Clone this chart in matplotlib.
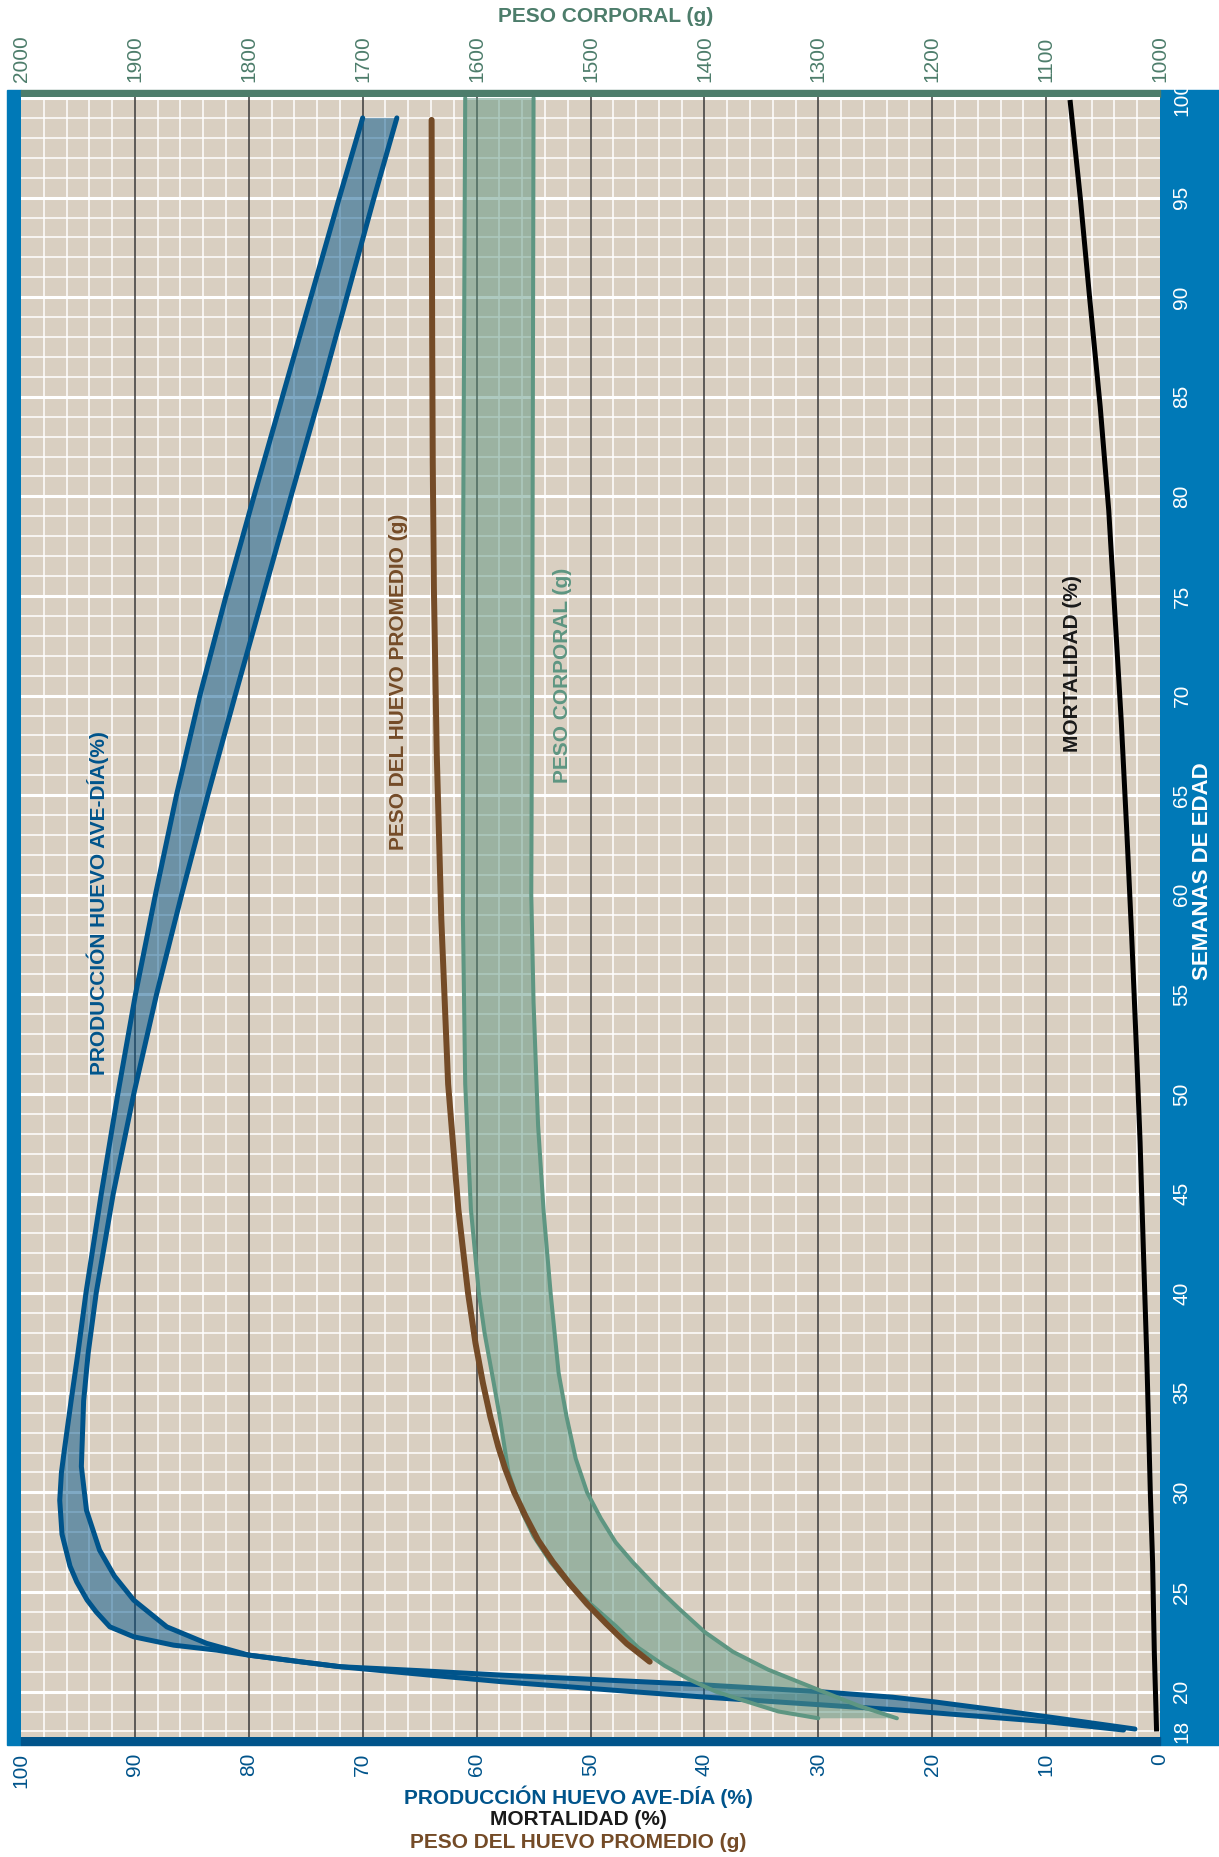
import matplotlib
matplotlib.use('Agg')
import matplotlib.pyplot as plt
from matplotlib.patches import Rectangle

plt.rcParams['font.family'] = ['Liberation Sans Narrow', 'Liberation Sans', 'DejaVu Sans']

# Producción huevo ave-día (%) - estándar alto y bajo
prod_alta_sem = [18.07, 18.49, 19.07, 19.74, 20.5, 20.9, 21.25, 21.5, 21.83, 22.08, 22.33, 22.75, 23.25,
                 24.0, 24.6, 25.5, 26.3, 27.9, 29.6, 31.0, 32.1, 34.6, 37, 40, 45, 50, 55, 60, 65, 70,
                 75, 80, 85, 90, 95, 99]
prod_alta = [3.2, 9.95, 22.8, 40.4, 57.9, 65.5, 72.0, 75.5, 80.0, 82.8, 86.6, 90.1, 92.2,
             93.4, 94.2, 95.1, 95.7, 96.4, 96.6, 96.45, 96.2, 95.6, 95.0, 94.3, 92.95, 91.5, 89.95, 88.2,
             86.35, 84.3, 82.0, 79.55, 77.05, 74.55, 72.05, 70.0]
prod_baja_sem = [18.12, 18.74, 19.2, 19.49, 19.72, 20.0, 20.4, 20.83, 21.05, 21.25, 21.5, 21.83, 22.42,
                 23.25, 24.59, 25.8, 27.1, 29.1, 31.3, 34.6, 37, 40, 45, 50, 55, 60, 65, 70, 75, 80,
                 85, 90, 95, 99]
prod_baja = [2.2, 9.95, 16.0, 19.9, 23.5, 30.0, 42.0, 57.9, 65.0, 72.0, 75.5, 80.0, 83.7,
             87.2, 90.1, 91.8, 93.1, 94.25, 94.7, 94.5, 94.1, 93.4, 91.9, 90.1, 88.1, 85.9, 83.6, 81.2,
             78.75, 76.3, 73.8, 71.4, 69.0, 67.0]

# Peso del huevo promedio (g)
huevo_sem = [21.5, 22.4, 23.4, 24.4, 25.4, 26.5, 27.6, 28.8, 30.0, 31.2, 32.3, 33.8, 35.5, 37.5, 40,
             44.2, 50.5, 58.8, 67.1, 75.4, 81.7, 87.9, 98.9]
huevo_peso = [44.8, 46.8, 48.6, 50.3, 51.8, 53.3, 54.6, 55.7, 56.7, 57.5, 58.1, 58.8, 59.45, 60.1, 60.75,
              61.6, 62.5, 63.1, 63.5, 63.75, 63.85, 63.9, 63.95]

# Peso corporal (g) - estándar alto y bajo
pc_alto_sem = [18.66, 19.0, 19.45, 20.0, 20.6, 21.3, 22.2, 23.3, 24.4, 25.4, 26.5, 27.8, 29.0, 31.0,
               33.9, 35.5, 38, 40, 44.2, 50.5, 58.8, 75.4, 100]
pc_alto = [1300, 1335, 1360, 1390, 1413, 1435, 1458, 1478, 1500, 1519, 1535, 1550, 1560, 1572,
           1580, 1585, 1593, 1598, 1605, 1610, 1612, 1612, 1610]
pc_bajo_sem = [18.66, 19.3, 20.0, 21.1, 22.0, 23.0, 24.2, 25.3, 26.5, 27.5, 28.7, 30.0, 31.7, 33.8,
               36, 40, 44, 48.4, 54.6, 60, 75, 100]
pc_bajo = [1231, 1265, 1296, 1344, 1375, 1400, 1423, 1443, 1463, 1478, 1491, 1503, 1513, 1521,
           1528, 1535, 1541, 1546, 1550, 1552, 1551, 1550]

# Mortalidad (%)
mort_sem = [18, 22, 26.5, 30, 37, 42, 47.6, 52, 58.1, 63, 68.7, 74, 79.3, 84.5, 89.8, 95, 99.9]
mort = [0.3, 0.5, 0.65, 0.85, 1.17, 1.45, 1.75, 2.05, 2.5, 2.9, 3.4, 3.95, 4.5, 5.25, 6.15, 7.0, 7.9]

ticks_x = list(range(0, 101, 10))
ticks_pc = list(range(1000, 2001, 100))
ticks_sem = [18, 20] + list(range(25, 101, 5))

AZUL = '#00548b'
AZUL_BORDE = '#0079b7'
VERDE = '#5e9682'
VERDE_OSC = '#4d7d6b'
MARRON = '#744b27'
FONDO = '#d9cfc1'

W, H = 1219, 1857
fig = plt.figure(figsize=(W / 100, H / 100), dpi=100)


def fr(x0, y0, x1, y1):
    # caja en pixeles -> fracción de figura
    return (x0 / W, 1 - y1 / H, (x1 - x0) / W, (y1 - y0) / H)


ax = fig.add_axes(fr(21, 97, 1160, 1737))
ax.set_facecolor(FONDO)
ax.set_xlim(100, 0)
ax.set_ylim(17.72, 100.05)

# cuadrícula
for v in range(2, 100, 2):
    if v % 10:
        ax.axvline(v, color='white', lw=1.1, zorder=1)
    else:
        ax.axvline(v, color='#3a3a3a', lw=1.1, zorder=1.5)
for s in range(18, 101):
    ax.axhline(s, color='white', lw=2.2 if s % 5 == 0 else 1.1, zorder=1)

# producción
ax.fill(prod_alta + prod_baja[::-1], prod_alta_sem + prod_baja_sem[::-1],
        color=AZUL, alpha=0.5, lw=0, zorder=2)
ax.plot(prod_alta, prod_alta_sem, color=AZUL, lw=3.6, solid_capstyle='round', solid_joinstyle='round', zorder=3)
ax.plot(prod_baja, prod_baja_sem, color=AZUL, lw=3.6, solid_capstyle='round', solid_joinstyle='round', zorder=3)

# mortalidad
ax.plot(mort, mort_sem, color='black', lw=3.6, solid_capstyle='butt', zorder=3)

for s in ax.spines.values():
    s.set_visible(False)
ax.set_xticks(ticks_x)
ax.tick_params(axis='x', length=0, pad=11.5, labelsize=15, labelcolor=AZUL, labelrotation=90)
ax.yaxis.tick_right()
ax.set_yticks(ticks_sem)
ax.tick_params(axis='y', length=0, pad=9, labelsize=15, labelcolor='white', labelrotation=90)
for t in ax.get_yticklabels():
    t.set_va('center')

# peso corporal (eje superior)
ax2 = ax.twiny()
ax2.set_xlim(2000, 1000)
ax2.fill(pc_alto + pc_bajo[::-1], pc_alto_sem + pc_bajo_sem[::-1],
         color=VERDE, alpha=0.5, lw=0, zorder=2)
ax2.plot(pc_alto, pc_alto_sem, color=VERDE, lw=2.9, solid_capstyle='round', solid_joinstyle='round', zorder=3)
ax2.plot(pc_bajo, pc_bajo_sem, color=VERDE, lw=2.9, solid_capstyle='round', solid_joinstyle='round', zorder=3)
for s in ax2.spines.values():
    s.set_visible(False)
ax2.set_xticks(ticks_pc)
ax2.tick_params(axis='x', length=0, pad=10.8, labelsize=15, labelcolor=VERDE_OSC, labelrotation=90)

# peso del huevo y textos (capa superior)
ax3 = ax.twiny()
ax3.set_xlim(100, 0)
ax3.axis('off')
ax3.plot(huevo_peso, huevo_sem, color=MARRON, lw=4.3, solid_capstyle='round', solid_joinstyle='round', zorder=4)

kw = dict(rotation=90, ha='center', va='center', fontsize=15, fontweight='bold')
ax3.text(93.3, 59.6, 'PRODUCCIÓN HUEVO AVE-DÍA(%)', color=AZUL, **kw)
ax3.text(66.9, 70.7, 'PESO DEL HUEVO PROMEDIO (g)', color=MARRON, **kw)
ax3.text(52.5, 71.0, 'PESO CORPORAL (g)', color=VERDE, **kw)
ax3.text(7.7, 71.6, 'MORTALIDAD (%)', color='#1a1a1a', **kw)

# marcos
marcos = [((7, 90, 21, 1745), AZUL_BORDE), ((1160, 90, 1219, 1745), AZUL_BORDE),
          ((21, 90, 1160, 97), VERDE_OSC), ((21, 1737, 1160, 1745), AZUL)]
for caja, col in marcos:
    x0, y0, w, h = fr(*caja)
    fig.patches.append(Rectangle((x0, y0), w, h, transform=fig.transFigure, color=col, zorder=-1))

fig.text(1203 / W, 1 - 871 / H, 'SEMANAS DE EDAD', color='white', rotation=90, ha='center', va='center',
         fontsize=16, fontweight='bold')
fig.text(606 / W, 1 - 16 / H, 'PESO CORPORAL (g)', color=VERDE_OSC, ha='center', va='center',
         fontsize=15, fontweight='bold')
fig.text(578.5 / W, 1 - 1797 / H, 'PRODUCCIÓN HUEVO AVE-DÍA (%)', color=AZUL, ha='center', va='center',
         fontsize=15, fontweight='bold')
fig.text(578.5 / W, 1 - 1819.5 / H, 'MORTALIDAD (%)', color='#1a1a1a', ha='center', va='center',
         fontsize=15, fontweight='bold')
fig.text(578.5 / W, 1 - 1842 / H, 'PESO DEL HUEVO PROMEDIO (g)', color=MARRON, ha='center', va='center',
         fontsize=15, fontweight='bold')

fig.savefig('out.png', dpi=100)
